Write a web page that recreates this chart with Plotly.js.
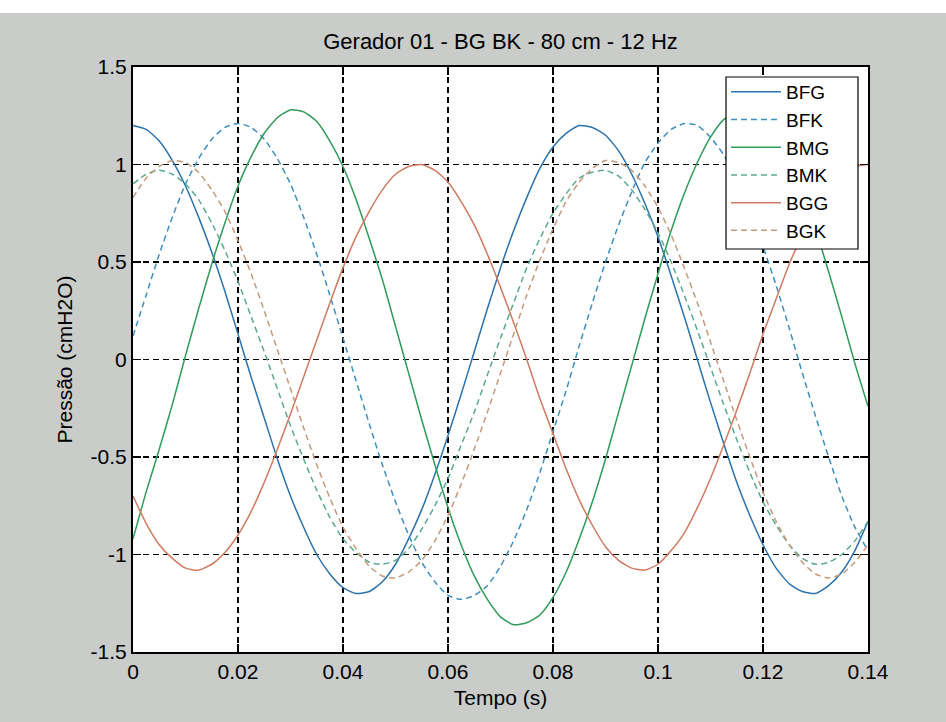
<!DOCTYPE html>
<html>
<head>
<meta charset="utf-8">
<script src="https://cdn.plot.ly/plotly-3.0.1.min.js"></script>
<style>
html,body{margin:0;padding:0;background:#ffffff;}
#chart{position:absolute;left:0;top:13px;width:946px;height:709px;}
</style>
</head>
<body>
<div id="chart"></div>
<script>
const tempo = [0,0.0025,0.005,0.0075,0.01,0.0125,0.015,0.0175,0.02,0.0225,0.025,0.0275,0.03,0.0325,0.035,0.0375,0.04,0.0425,0.045,0.0475,0.05,0.0525,0.055,0.0575,0.06,0.0625,0.065,0.0675,0.07,0.0725,0.075,0.0775,0.08,0.0825,0.085,0.0875,0.09,0.0925,0.095,0.0975,0.1,0.1025,0.105,0.1075,0.11,0.1125,0.115,0.1175,0.12,0.1225,0.125,0.1275,0.13,0.1325,0.135,0.1375,0.14];

const BFG = [1.20,1.18,1.12,1.02,0.89,0.73,0.55,0.35,0.13,-0.09,-0.30,-0.51,-0.70,-0.86,-1.00,-1.10,-1.17,-1.20,-1.19,-1.14,-1.05,-0.92,-0.77,-0.59,-0.39,-0.18,0.04,0.26,0.47,0.66,0.83,0.98,1.09,1.16,1.20,1.19,1.15,1.07,0.95,0.80,0.63,0.43,0.22,0.00,-0.22,-0.43,-0.63,-0.80,-0.95,-1.07,-1.15,-1.19,-1.20,-1.16,-1.09,-0.98,-0.83];
const BFK = [0.12,0.33,0.54,0.73,0.90,1.03,1.13,1.19,1.21,1.19,1.13,1.03,0.90,0.73,0.54,0.33,0.11,-0.11,-0.33,-0.54,-0.73,-0.90,-1.04,-1.14,-1.21,-1.23,-1.21,-1.16,-1.06,-0.93,-0.77,-0.58,-0.37,-0.16,0.07,0.29,0.50,0.69,0.86,1.01,1.11,1.18,1.21,1.20,1.14,1.05,0.93,0.77,0.58,0.38,0.16,-0.07,-0.29,-0.50,-0.70,-0.86,-0.98];
const BMG = [-0.92,-0.68,-0.46,-0.23,0.02,0.26,0.49,0.70,0.89,1.04,1.16,1.24,1.28,1.27,1.22,1.12,0.99,0.82,0.62,0.41,0.17,-0.07,-0.31,-0.54,-0.76,-0.95,-1.11,-1.23,-1.32,-1.36,-1.35,-1.31,-1.22,-1.09,-0.92,-0.73,-0.51,-0.27,-0.03,0.21,0.44,0.66,0.85,1.01,1.14,1.23,1.27,1.28,1.23,1.15,1.02,0.86,0.67,0.45,0.22,-0.02,-0.24];
const BMK = [0.90,0.95,0.97,0.95,0.90,0.82,0.70,0.56,0.40,0.22,0.04,-0.15,-0.34,-0.51,-0.67,-0.81,-0.92,-0.99,-1.04,-1.05,-1.03,-0.97,-0.87,-0.75,-0.61,-0.44,-0.27,-0.08,0.11,0.29,0.47,0.62,0.75,0.85,0.93,0.96,0.97,0.94,0.87,0.77,0.65,0.50,0.33,0.15,-0.04,-0.23,-0.41,-0.58,-0.73,-0.85,-0.95,-1.02,-1.05,-1.04,-1.00,-0.93,-0.83];
const BGG = [-0.70,-0.84,-0.95,-1.02,-1.07,-1.08,-1.05,-0.99,-0.90,-0.78,-0.63,-0.46,-0.28,-0.09,0.10,0.29,0.47,0.63,0.76,0.87,0.95,0.99,1.00,0.97,0.91,0.81,0.69,0.54,0.37,0.19,0.00,-0.20,-0.38,-0.56,-0.72,-0.85,-0.96,-1.03,-1.07,-1.08,-1.05,-0.98,-0.89,-0.76,-0.61,-0.44,-0.26,-0.07,0.13,0.31,0.49,0.64,0.78,0.88,0.96,0.99,1.00];
const BGK = [0.83,0.93,0.99,1.02,1.01,0.96,0.87,0.76,0.61,0.44,0.25,0.05,-0.15,-0.35,-0.54,-0.71,-0.86,-0.97,-1.06,-1.11,-1.12,-1.09,-1.03,-0.93,-0.80,-0.64,-0.46,-0.27,-0.07,0.13,0.33,0.51,0.67,0.81,0.91,0.98,1.02,1.01,0.97,0.89,0.78,0.64,0.47,0.29,0.09,-0.11,-0.31,-0.50,-0.68,-0.83,-0.95,-1.04,-1.10,-1.12,-1.10,-1.04,-0.95];

const seriesNames = ['BFG','BFK','BMG','BMK','BGG','BGK'];
const seriesValues = [BFG, BFK, BMG, BMK, BGG, BGK];
const seriesColors = ['#2b72ad','#3d8fc0','#2f9a5a','#5aa98c','#d07a60','#c59a7c'];
const seriesDash = ['solid','6px,4px','solid','6px,4px','solid','6px,4px'];

const xTickVals = [0,0.02,0.04,0.06,0.08,0.1,0.12,0.14];
const xTickText = ['0','0.02','0.04','0.06','0.08','0.1','0.12','0.14'];
const yTickVals = [-1.5,-1,-0.5,0,0.5,1,1.5];
const yTickText = ['-1.5','-1','-0.5','0','0.5','1','1.5'];

const traces = seriesNames.map((n,i)=>({
  x: tempo, y: seriesValues[i], name: n, type:'scatter', mode:'lines',
  line:{color:seriesColors[i], width:1.5, dash:seriesDash[i], shape:'spline', smoothing:0.6}
}));

const FONT = 'Liberation Sans, Arial, Helvetica, sans-serif';
const axisCommon = {
  showgrid:true, gridcolor:'#000000', gridwidth:1.6, griddash:'6px,4px',
  showline:true, linecolor:'#000000', linewidth:2, mirror:'ticks',
  ticks:'inside', ticklen:8, tickwidth:1.5, tickcolor:'#000000',
  zeroline:false, tickfont:{family:FONT,size:21,color:'#000'}
};

// plot area in pixels (within the chart div): left 133, right 868, top 54, bottom 639
const PW = 735, PH = 585;
const legendBox = {left:726-133, right:858-133, top:77-67, bottom:249-67};

const layout = {
  width:946, height:709,
  margin:{l:133, r:78, t:54, b:70, pad:0},
  paper_bgcolor:'#c9ccc9', plot_bgcolor:'#ffffff',
  font:{family:FONT, size:21, color:'#000'},
  title:{text:'Gerador 01 - BG BK - 80 cm - 12 Hz', font:{family:FONT,size:22,color:'#000'},
         x:0.5, xref:'paper', y:1-28/709, yref:'container', yanchor:'middle'},
  xaxis: Object.assign({}, axisCommon, {range:[0,0.14], tickvals:xTickVals, ticktext:xTickText,
         title:{text:'Tempo (s)', font:{family:FONT,size:21,color:'#000'}, standoff:8}}),
  yaxis: Object.assign({}, axisCommon, {range:[-1.5,1.5], tickvals:yTickVals, ticktext:yTickText,
         title:{text:'Pressão (cmH2O)', font:{family:FONT,size:21,color:'#000'}, standoff:12}}),
  shapes:[{type:'rect', xref:'paper', yref:'paper', layer:'above',
           x0:legendBox.left/PW, x1:legendBox.right/PW,
           y0:1-legendBox.bottom/PH, y1:1-legendBox.top/PH,
           fillcolor:'#ffffff', line:{color:'#000000', width:1.2}}],
  showlegend:true,
  legend:{x:legendBox.left/PW, y:1-(legendBox.top-4)/PH, xanchor:'left', yanchor:'top',
          bgcolor:'rgba(0,0,0,0)', borderwidth:0,
          font:{family:FONT,size:19,color:'#000'}, itemwidth:50, traceorder:'normal'}
};

Plotly.newPlot('chart', traces, layout, {displayModeBar:false, staticPlot:true});
</script>
</body>
</html>
